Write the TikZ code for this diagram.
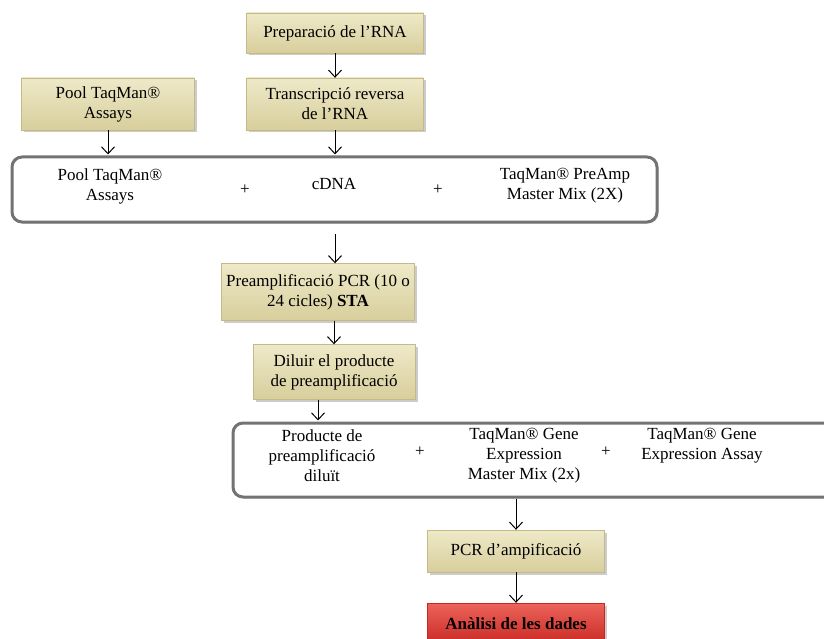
\documentclass[tikz,border=0pt]{standalone}
\usepackage{fontspec}
\setmainfont{Liberation Serif}
\usetikzlibrary{positioning,arrows.meta,shadows}

\definecolor{tantop}{RGB}{238,233,200}
\definecolor{tanbot}{RGB}{216,206,156}
\definecolor{tanedge}{RGB}{196,186,136}
\definecolor{redtop}{RGB}{236,100,90}
\definecolor{redbot}{RGB}{200,40,35}
\definecolor{mixedge}{RGB}{115,115,115}

\begin{document}
\begin{tikzpicture}[x=1pt, y=-1pt,
    procbox/.style={rectangle, draw=tanedge, top color=tantop, bottom color=tanbot, align=center, inner sep=1pt, font=\fontsize{17}{20}\selectfont, drop shadow={shadow xshift=2.5pt, shadow yshift=-2.5pt, opacity=0.4}},
    resultbox/.style={procbox, draw=redbot, top color=redtop, bottom color=redbot, font=\fontsize{17}{20}\selectfont\bfseries},
    mixbox/.style={rectangle, rounded corners=10pt, draw=mixedge, line width=3pt, fill=white, drop shadow={shadow xshift=1.5pt, shadow yshift=-1.5pt, opacity=0.3}},
    mixtext/.style={align=center, font=\fontsize{17}{20}\selectfont},
    arrow/.style={line width=0.9pt, -{Straight Barb[length=7pt, width=13pt, line width=1pt]}}
]
\useasboundingbox (0,0) rectangle (824,639);

% RNA side
\node[procbox, minimum width=177pt, minimum height=40pt] (prep) at (335,33) {Preparació de l'RNA};
\node[procbox, minimum width=177pt, minimum height=52pt] (rt) at (335,104) {Transcripció reversa\\de l'RNA};
\node[procbox, minimum width=173pt, minimum height=52pt] (pool) at (108,104) {Pool TaqMan®\\Assays};

% First mix
\node[mixbox, minimum width=645pt, minimum height=65pt] (mixA) at (334.5,189.5) {};
\node[mixtext] (mixApool) at (110,186) {Pool TaqMan®\\Assays};
\node[mixtext] (plusA1) at (245,190) {+};
\node[mixtext] (cdna) at (334,184) {cDNA};
\node[mixtext] (plusA2) at (438,190) {+};
\node[mixtext] (preampmix) at (565,186) {TaqMan® PreAmp\\Master Mix (2X)};

% Preamplification
\node[procbox, minimum width=193pt, minimum height=57pt] (preamp) at (318,292) {Preamplificació PCR (10 o\\24 cicles) \textbf{STA}};
\node[procbox, minimum width=162pt, minimum height=55pt] (dil) at (334,372) {Diluir el producte\\de preamplificació};

% Second mix
\node[mixbox, minimum width=620pt, minimum height=74pt] (mixB) at (543,460) {};
\node[mixtext] (mixBprod) at (322,456) {Producte de\\preamplificació\\diluït};
\node[mixtext] (plusB1) at (420,452) {+};
\node[mixtext] (gemix) at (524,456) {TaqMan® Gene\\Expression\\Master Mix (2x)};
\node[mixtext] (plusB2) at (606,452) {+};
\node[mixtext] (geassay) at (702,446) {TaqMan® Gene\\Expression Assay};

% Amplification and analysis
\node[procbox, minimum width=177pt, minimum height=42pt] (pcr) at (516,551) {PCR d'ampificació};
\node[resultbox, minimum width=177pt, minimum height=42pt] (anal) at (516,624) {Anàlisi de les dades};

% Arrows
\draw[arrow] (prep) -- (rt);
\draw[arrow] (pool) -- ([yshift=1pt]pool |- mixA.north);
\draw[arrow] (rt) -- ([yshift=1pt]rt |- mixA.north);
\draw[arrow] ([yshift=-10pt]mixA.south -| rt.south) -- (rt.south |- preamp.north);
\draw[arrow] (dil.north |- preamp.south) -- (dil);
\draw[arrow] ([xshift=-16pt]dil.south) -- ([xshift=-16pt, yshift=1pt]dil.south |- mixB.north);
\draw[arrow] (mixB.south -| pcr.north) -- (pcr);
\draw[arrow] (pcr) -- (anal);

\end{tikzpicture}
\end{document}
